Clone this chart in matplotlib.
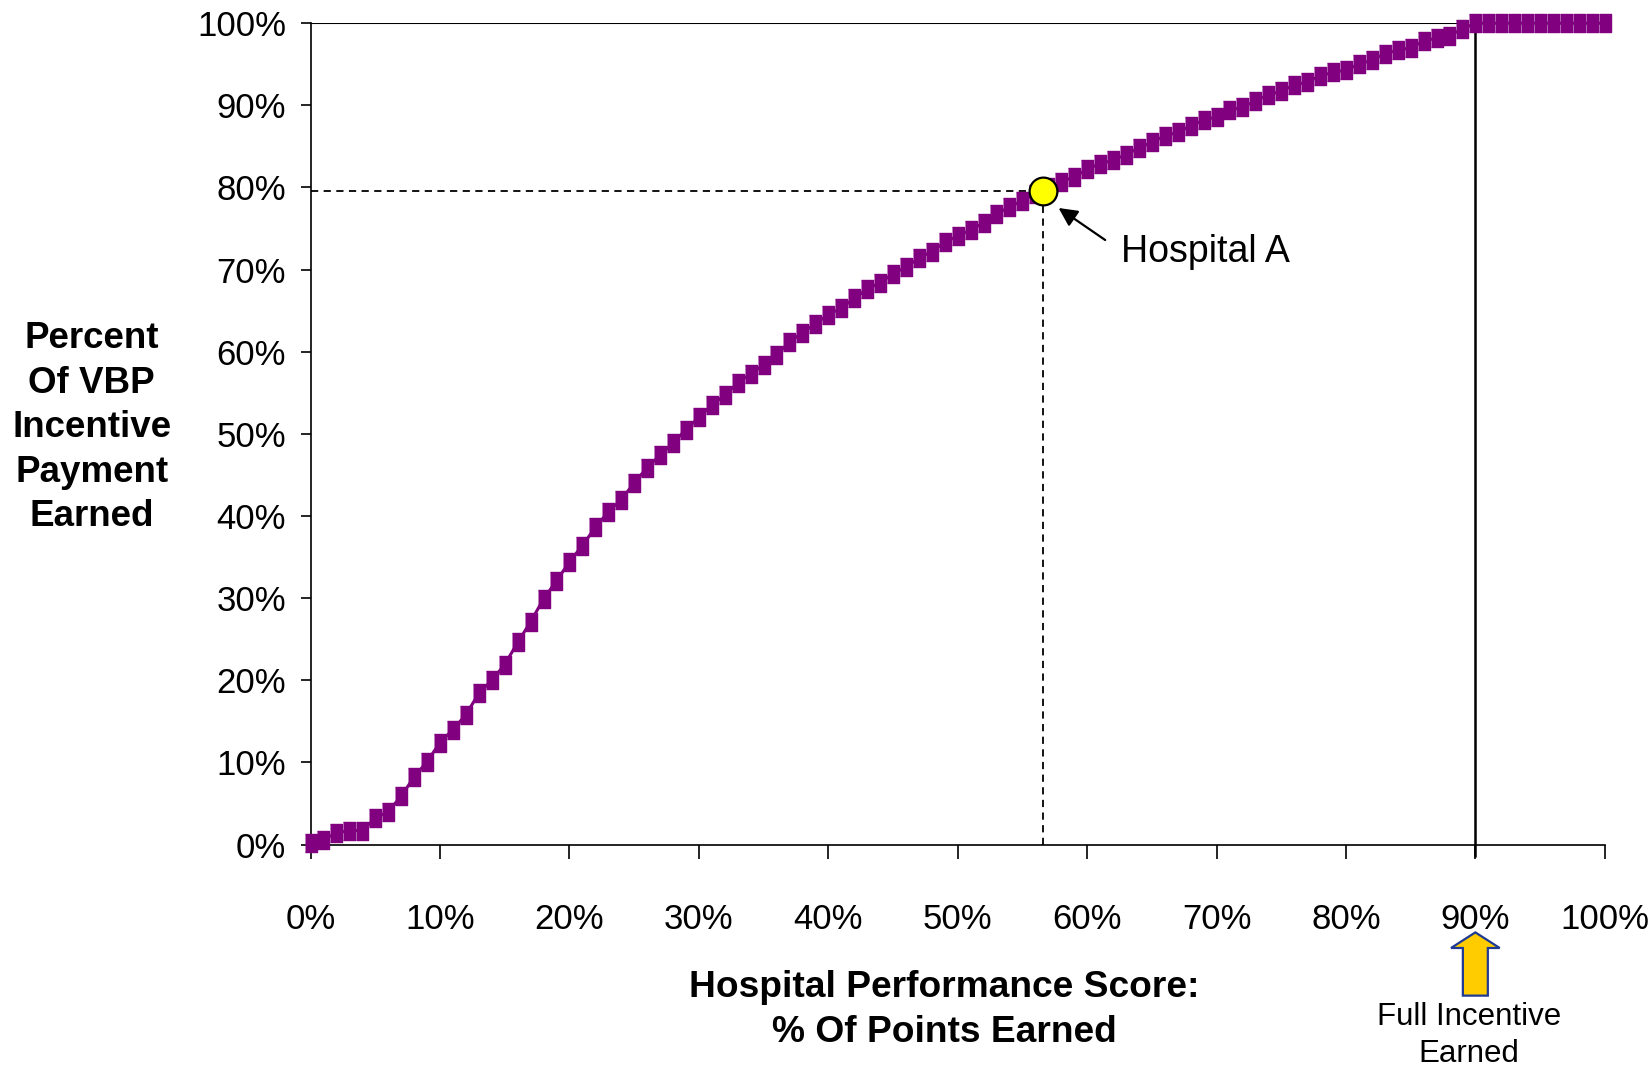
import matplotlib
matplotlib.use("Agg")
import matplotlib.pyplot as plt
from matplotlib.patches import FancyArrow

# performance score (% of points earned) vs. share of incentive payment earned
score = list(range(0, 101))
payment = [
    0.2, 0.6, 1.4, 1.7, 1.7, 3.2, 4.0, 5.9, 8.2, 10.1,
    12.4, 14.0, 15.8, 18.4, 20.0, 21.9, 24.6, 27.1, 29.9, 32.1,
    34.4, 36.4, 38.6, 40.5, 42.0, 44.0, 45.9, 47.4, 48.9, 50.5,
    52.0, 53.5, 54.7, 56.2, 57.3, 58.4, 59.6, 61.2, 62.3, 63.4,
    64.5, 65.3, 66.5, 67.6, 68.4, 69.5, 70.3, 71.4, 72.2, 73.3,
    74.1, 74.8, 75.7, 76.8, 77.6, 78.4, 79.2, 80.0, 80.7, 81.3,
    82.2, 82.9, 83.3, 84.0, 84.8, 85.5, 86.3, 86.7, 87.5, 88.2,
    88.6, 89.4, 89.8, 90.5, 91.3, 91.7, 92.5, 92.8, 93.6, 94.0,
    94.3, 95.0, 95.5, 96.3, 96.7, 97.0, 97.8, 98.2, 98.5, 99.3,
    100, 100, 100, 100, 100, 100, 100, 100, 100, 100, 100,
]
hospital_a = (56.6, 79.6)
full_score = 90

ticks = list(range(0, 101, 10))
tick_labels = [f"{t}%" for t in ticks]

PURPLE = "#800080"
narrow = ["Liberation Sans Narrow", "Liberation Sans", "DejaVu Sans"]
arial = ["Liberation Sans", "DejaVu Sans"]

fig = plt.figure(figsize=(16.51, 10.69), dpi=100)
ax = fig.add_axes([0.1881, 0.2100, 0.9720 - 0.1881, 0.9783 - 0.2100])

# tall rectangular markers like the spreadsheet default
rect = [(-0.34, -0.5), (0.34, -0.5), (0.34, 0.5), (-0.34, 0.5)]
ax.plot(score, payment, color=PURPLE, lw=2.2, marker=rect, ms=13.5,
        mfc=PURPLE, mec=PURPLE, clip_on=False, zorder=3)

# reference lines
ax.hlines(100, 0, full_score - 1.2, color="black", lw=1.5, zorder=2)
ax.vlines(full_score, -1.5, 101, color="black", lw=1.8, clip_on=False, zorder=2)

# Hospital A and its dashed guides
hx, hy = hospital_a
ax.plot([0, hx], [hy, hy], color="black", lw=1.3, ls=(0, (4, 3)), zorder=2)
ax.plot([hx, hx], [0, hy], color="black", lw=1.3, ls=(0, (4, 3)), zorder=2)
ax.plot(hx, hy, "o", ms=20, mfc="#FFFF00", mec="black", mew=1.6, zorder=5)
ax.annotate("", xy=(hx + 1.2, hy - 2.1), xytext=(61.4, 73.6),
            arrowprops=dict(arrowstyle="-|>", color="black", lw=1.6,
                            mutation_scale=28, shrinkA=0, shrinkB=0),
            zorder=6)
ax.text(62.6, 72.1, "Hospital A", fontsize=27, family=arial,
        va="center", ha="left")

ax.set_xlim(0, 100)
ax.set_ylim(0, 100)
ax.set_xticks(ticks)
ax.set_xticklabels(tick_labels)
ax.set_yticks(ticks)
ax.set_yticklabels(tick_labels)
for lab in ax.get_xticklabels() + ax.get_yticklabels():
    lab.set_family(narrow)
    lab.set_fontsize(25)
ax.tick_params(axis="x", length=10, width=1.2, pad=32, direction="out")
ax.tick_params(axis="y", length=7.5, width=1.2, pad=10, direction="out")
for side in ("top", "right"):
    ax.spines[side].set_visible(False)
for side in ("left", "bottom"):
    ax.spines[side].set_linewidth(1.2)

# gold arrow under the 90% tick
arrow = FancyArrow(full_score, -18.4, 0, 7.7, width=1.93, head_width=3.76,
                   head_length=1.9, length_includes_head=True,
                   fc="#FFCC00", ec="#1F3A93", lw=1.6, clip_on=False, zorder=4)
ax.add_patch(arrow)

fig.text(0.0555, 0.600, "Percent\nOf VBP\nIncentive\nPayment\nEarned",
         ha="center", va="center", multialignment="center",
         fontsize=26.5, fontweight="bold", family=arial, linespacing=1.35)
fig.text(0.572, 0.0554, "Hospital Performance Score:\n% Of Points Earned",
         ha="center", va="center", multialignment="center",
         fontsize=26.7, fontweight="bold", family=arial, linespacing=1.35)
fig.text(0.8898, 0.0312, "Full Incentive\nEarned",
         ha="center", va="center", multialignment="center",
         fontsize=22.5, family=arial, linespacing=1.3)

fig.savefig("out.png", dpi=100, facecolor="white")
